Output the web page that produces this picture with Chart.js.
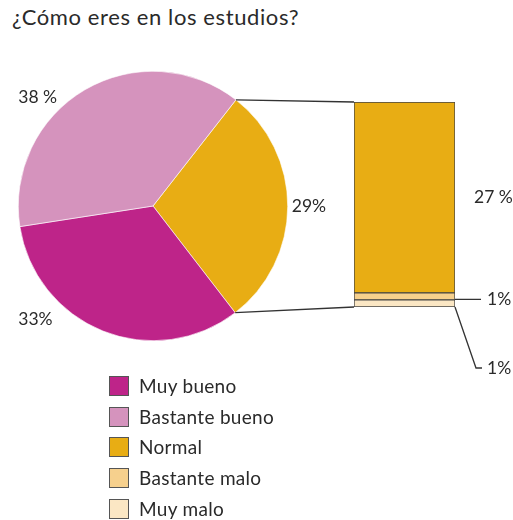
<!DOCTYPE html>
<html>
<head>
<meta charset="utf-8">
<script src="https://cdn.jsdelivr.net/npm/chart.js@4.4.0/dist/chart.umd.min.js"></script>
<style>
  body { margin: 0; background: #fff; font-family: Lato, sans-serif; color: #2a2a2a; }
  #wrap { position: relative; width: 513px; height: 520px; }
  #title { position: absolute; left: 12px; top: 3px; font-size: 22px; letter-spacing: 0.6px; }
  canvas { position: absolute; left: 0; top: 0; }
  #legend { position: absolute; left: 109px; top: 376px; }
  .item { height: 30.7px; display: flex; align-items: flex-start; font-size: 19px; letter-spacing: 0.3px; }
  .box { width: 20px; height: 20px; border: 1px solid #555; box-sizing: border-box; margin-right: 10px; }
</style>
</head>
<body>
<div id="wrap">
  <div id="title">¿Cómo eres en los estudios?</div>
  <canvas id="pieChart" width="513" height="520"></canvas>
  <canvas id="barChart" width="513" height="520"></canvas>
  <div id="legend"></div>
</div>
<script>
// Data
const pieCategories = ['Normal', 'Muy bueno', 'Bastante bueno'];
const pieValues = [29, 33, 38];
const pieLabels = ['29%', '33%', '38 %'];

const barCategories = ['Muy malo', 'Bastante malo', 'Normal'];
const barValues = [1, 1, 27];
const barLabels = ['1%', '1%', '27 %'];

const legendCategories = ['Muy bueno', 'Bastante bueno', 'Normal', 'Bastante malo', 'Muy malo'];

const colors = {
    'Muy bueno': '#be2489',
    'Bastante bueno': '#d593bd',
    'Normal': '#e8ad14',
    'Bastante malo': '#f6d08d',
    'Muy malo': '#fbe7c4'
};

const labelFont = '17.5px Lato, sans-serif';
const textColor = '#2a2a2a';

// Legend
const legendEl = document.getElementById('legend');
legendCategories.forEach(name => {
    const row = document.createElement('div');
    row.className = 'item';
    row.innerHTML = `<span class="box" style="background:${colors[name]}"></span><span style="line-height:20px">${name}</span>`;
    legendEl.appendChild(row);
});

// Pie
const pieLabelPlugin = {
    id: 'pieLabels',
    afterDraw(chart) {
        const ctx = chart.ctx;
        const arcs = chart.getDatasetMeta(0).data;
        const cx = arcs[0].x, cy = arcs[0].y, r = arcs[0].outerRadius;
        // label anchor per slice: [dx, dy] in radius units
        const spots = [[1.03, 0], [-1, 0.84], [-1, -0.81]];
        ctx.save();
        ctx.font = labelFont;
        ctx.fillStyle = textColor;
        ctx.textAlign = 'left';
        ctx.textBaseline = 'middle';
        pieLabels.forEach((txt, i) => {
            ctx.fillText(txt, cx + spots[i][0] * r, cy + spots[i][1] * r);
        });
        ctx.restore();
    }
};

const pieChart = new Chart(document.getElementById('pieChart'), {
    type: 'pie',
    data: {
        labels: pieCategories,
        datasets: [{
            data: pieValues,
            backgroundColor: pieCategories.map(c => colors[c]),
            borderColor: '#ffffff',
            borderWidth: 0.6
        }]
    },
    options: {
        responsive: false,
        animation: false,
        rotation: 38,
        layout: { padding: { left: 18, right: 225, top: 71, bottom: 179 } },
        plugins: { legend: { display: false }, tooltip: { enabled: false } }
    },
    plugins: [pieLabelPlugin]
});

// Bar + connectors
const connectorPlugin = {
    id: 'connectors',
    afterDraw(chart) {
        const ctx = chart.ctx;
        const arc = pieChart.getDatasetMeta(0).data[0];
        const top = chart.getDatasetMeta(2).data[0];
        const mid = chart.getDatasetMeta(1).data[0];
        const bottom = chart.getDatasetMeta(0).data[0];
        const left = top.x - top.width / 2;
        const right = top.x + top.width / 2;

        ctx.save();
        ctx.strokeStyle = '#333';
        ctx.lineWidth = 1.3;
        ctx.beginPath();
        ctx.moveTo(arc.x + arc.outerRadius * Math.cos(arc.startAngle), arc.y + arc.outerRadius * Math.sin(arc.startAngle));
        ctx.lineTo(left, top.y);
        ctx.moveTo(arc.x + arc.outerRadius * Math.cos(arc.endAngle), arc.y + arc.outerRadius * Math.sin(arc.endAngle));
        ctx.lineTo(left, bottom.base);
        // leader lines for the small segments
        const midY = (mid.y + mid.base) / 2 + 3;
        ctx.moveTo(right, midY);
        ctx.lineTo(right + 26, midY);
        ctx.moveTo(right, bottom.base);
        ctx.lineTo(right + 21, bottom.base + 61);
        ctx.lineTo(right + 27, bottom.base + 61);
        ctx.stroke();

        ctx.font = labelFont;
        ctx.fillStyle = textColor;
        ctx.textAlign = 'left';
        ctx.textBaseline = 'middle';
        ctx.fillText(barLabels[2], right + 19, (top.y + top.base) / 2);
        ctx.fillText(barLabels[1], right + 32, midY);
        ctx.fillText(barLabels[0], right + 32, bottom.base + 61);
        ctx.restore();
    }
};

new Chart(document.getElementById('barChart'), {
    type: 'bar',
    data: {
        labels: [''],
        datasets: barCategories.map((c, i) => ({
            label: c,
            data: [barValues[i]],
            backgroundColor: colors[c],
            borderColor: '#444',
            borderWidth: 1,
            borderSkipped: false,
            categoryPercentage: 1,
            barPercentage: 1
        }))
    },
    options: {
        responsive: false,
        animation: false,
        layout: { padding: { left: 354, right: 58, top: 102, bottom: 213 } },
        scales: {
            x: { stacked: true, display: false },
            y: { stacked: true, display: false, min: 0, max: 29 }
        },
        plugins: { legend: { display: false }, tooltip: { enabled: false } }
    },
    plugins: [connectorPlugin]
});
</script>
</body>
</html>
